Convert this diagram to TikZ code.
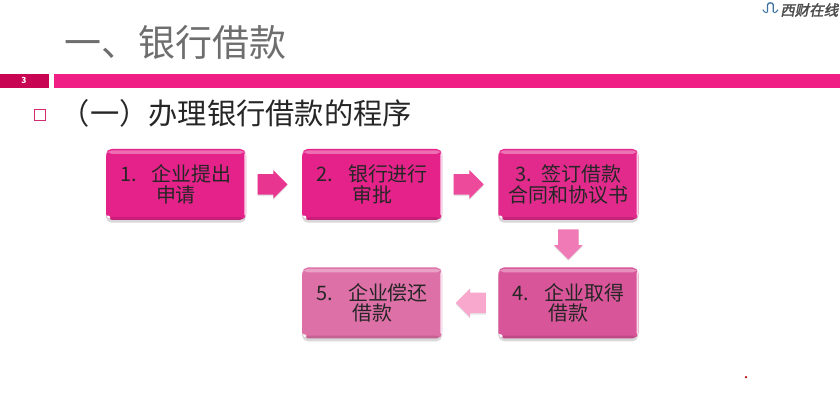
\documentclass[tikz,border=0pt]{standalone}
\usepackage{fontspec}
\setmainfont{Noto Sans CJK SC}
\newfontfamily\logofont[FakeSlant=0.2,FakeBold=2]{Noto Sans CJK SC}
\usetikzlibrary{positioning,calc,shapes.arrows,shadows}
\definecolor{barpink}{HTML}{EF1F86}
\definecolor{bardark}{HTML}{C80552}
\definecolor{titlegray}{HTML}{6E6E6E}
\definecolor{logoblue}{HTML}{3A6F9E}
\definecolor{boxa}{HTML}{E4228A}
\definecolor{boxb}{HTML}{E22A8C}
\definecolor{boxc}{HTML}{D9559A}
\definecolor{boxd}{HTML}{DE70A8}
\definecolor{arrowpinka}{HTML}{E8358F}
\definecolor{arrowpinkb}{HTML}{EE4A9C}
\definecolor{arrowpinkc}{HTML}{F07AB5}
\definecolor{arrowpinkd}{HTML}{F8A8CC}
\tikzset{
    stepbox/.style={
        rounded corners=4pt,minimum width=3.5cm,minimum height=1.775cm,inner sep=0pt,
        align=center,font=\fontsize{14.2}{14.6}\selectfont,text=black!85,fill=#1,
        drop shadow={shadow xshift=0pt,shadow yshift=-2pt,opacity=0.3},
        path picture={
            \fill[white,opacity=0.35] ([yshift=-1pt]path picture bounding box.north west) rectangle
                ([yshift=-3.5pt]path picture bounding box.north east);
            \fill[white,opacity=0.8] (path picture bounding box.north east) rectangle
                ([xshift=-1.2pt]path picture bounding box.south east);
            \fill[white] (path picture bounding box.south west) -- ++(5pt,0) -- ++(-5pt,5pt) -- cycle;
            \fill[black,opacity=0.12] (path picture bounding box.south west) rectangle
                ([yshift=2pt]path picture bounding box.south east);
        }
    },
    steparrow/.style={
        single arrow,single arrow head extend=0.1cm,single arrow tip angle=90,
        minimum height=0.75cm,inner xsep=0pt,inner ysep=0.25cm,fill=#1,anchor=tail,
        drop shadow={shadow xshift=0pt,shadow yshift=-1pt,opacity=0.2}
    }
}

\begin{document}
\begin{tikzpicture}[node distance=1.39cm]
    \useasboundingbox (0,0) rectangle (21,10);
    \fill[white] (0,0) rectangle (21,10);

    \node[anchor=west,text=titlegray,font=\fontsize{26.3}{30}\selectfont] (title) at (1.48,8.95) {一、银行借款};
    \fill[bardark] (0,7.8) rectangle (1.225,8.15);
    \fill[barpink] (1.35,7.8) rectangle (21,8.15);
    \node[text=white,font=\bfseries\fontsize{6}{7}\selectfont] (page) at (0.6,7.98) {3};
    \node[draw=bardark!85,line width=0.8pt,minimum size=0.27cm,inner sep=0pt] (bullet) at (1,7.13) {};
    \node[anchor=west,text=black!85,font=\fontsize{20.8}{26}\selectfont] (heading) at (1.4,7.17) {（一）办理银行借款的程序};

    \node[stepbox=boxa] (apply) at (4.4,5.39) {1.\hspace{0.75em}企业提出\\申请};
    \node[stepbox=boxa,right=of apply] (review) {2.\hspace{0.75em}银行进行\\审批};
    \node[stepbox=boxb,right=of review] (sign) {3.\hspace{0.5em}签订借款\\合同和协议书};
    \node[stepbox=boxc,below=1.175cm of sign] (obtain) {4.\hspace{0.75em}企业取得\\借款};
    \node[stepbox=boxd,left=of obtain] (repay) {5.\hspace{0.75em}企业偿还\\借款};

    \node[steparrow=arrowpinka] (arrowa) at ($(apply.east)+(0.275,0)$) {};
    \node[steparrow=arrowpinkb] (arrowb) at ($(review.east)+(0.275,0)$) {};
    \node[steparrow=arrowpinkc,rotate=-90] (arrowc) at ($(sign.south)+(0,-0.225)$) {};
    \node[steparrow=arrowpinkd,rotate=180] (arrowd) at ($(obtain.west)+(-0.3,0)$) {};

    \draw[logoblue,line width=0.9pt,line cap=round] (19.19,9.7) -- (19.19,9.88) to[out=90,in=90,looseness=1.2] (19.33,9.88) -- (19.33,9.7);
    \draw[logoblue,line width=0.7pt] (19.07,9.76) to[out=-60,in=180] (19.17,9.68)
        (19.45,9.76) to[out=-120,in=0] (19.35,9.68);
    \node[anchor=west,inner sep=0pt,text=black!70,font=\logofont\fontsize{10.3}{11}\selectfont] (logo) at (19.5,9.75) {西财在线};

    \fill[red!75!black] (18.65,0.57) circle[radius=0.03];
\end{tikzpicture}
\end{document}
